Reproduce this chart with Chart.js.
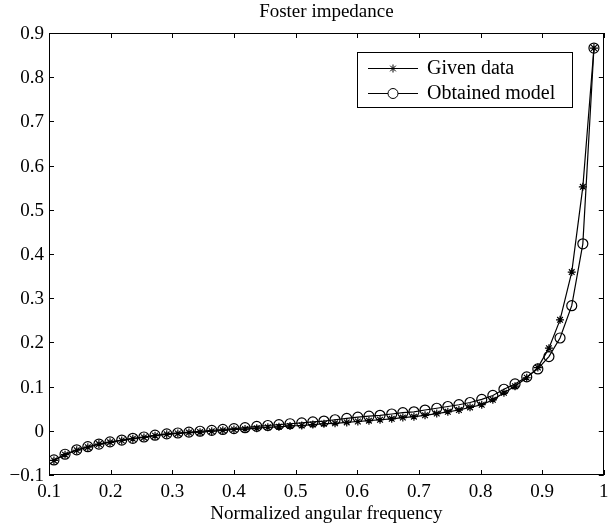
<!DOCTYPE html>
<html>
<head>
<meta charset="utf-8">
<script src="https://cdn.jsdelivr.net/npm/chart.js@4.4.0/dist/chart.umd.min.js"></script>
<style>
  html, body { margin: 0; padding: 0; background: #fff; }
  #fosterChart { display: block; }
</style>
</head>
<body>
<canvas id="fosterChart" width="610" height="526"></canvas>
<script>
// ===== Datos =====
const frequency = [0.108, 0.126, 0.145, 0.163, 0.181, 0.199, 0.218, 0.236, 0.254, 0.272,
  0.291, 0.309, 0.327, 0.345, 0.364, 0.382, 0.400, 0.418, 0.437, 0.455,
  0.473, 0.491, 0.510, 0.528, 0.546, 0.564, 0.583, 0.601, 0.619, 0.637,
  0.656, 0.674, 0.692, 0.710, 0.729, 0.747, 0.765, 0.783, 0.802, 0.820,
  0.838, 0.856, 0.875, 0.893, 0.911, 0.929, 0.948, 0.966, 0.984];

const givenData = [-0.067, -0.054, -0.044, -0.037, -0.030, -0.026, -0.022, -0.018, -0.015, -0.011,
  -0.008, -0.006, -0.004, -0.003, -0.001, 0.001, 0.003, 0.004, 0.006, 0.008,
  0.009, 0.011, 0.012, 0.014, 0.016, 0.017, 0.019, 0.021, 0.023, 0.025,
  0.027, 0.030, 0.032, 0.035, 0.039, 0.043, 0.047, 0.053, 0.059, 0.070,
  0.086, 0.101, 0.120, 0.143, 0.187, 0.251, 0.359, 0.552, 0.866];

const obtainedModel = [-0.066, -0.053, -0.043, -0.036, -0.030, -0.025, -0.021, -0.017, -0.014, -0.010,
  -0.007, -0.005, -0.003, -0.001, 0.001, 0.003, 0.005, 0.007, 0.010, 0.012,
  0.014, 0.016, 0.018, 0.020, 0.022, 0.025, 0.028, 0.031, 0.033, 0.035,
  0.038, 0.041, 0.043, 0.047, 0.051, 0.055, 0.059, 0.064, 0.071, 0.080,
  0.094, 0.106, 0.122, 0.140, 0.168, 0.210, 0.283, 0.423, 0.866];

const xTicks = [0.1, 0.2, 0.3, 0.4, 0.5, 0.6, 0.7, 0.8, 0.9, 1];
const xTickLabels = ['0.1', '0.2', '0.3', '0.4', '0.5', '0.6', '0.7', '0.8', '0.9', '1'];
const yTicks = [-0.1, 0, 0.1, 0.2, 0.3, 0.4, 0.5, 0.6, 0.7, 0.8, 0.9];
const yTickLabels = ['\u22120.1', '0', '0.1', '0.2', '0.3', '0.4', '0.5', '0.6', '0.7', '0.8', '0.9'];

const seriesNames = ['Given data', 'Obtained model'];

const FONT = '"Liberation Serif", "DejaVu Serif", serif';

function toPoints(xs, ys) {
  return xs.map((x, i) => ({ x: x, y: ys[i] }));
}

// Marco estilo matlab: caja, ticks hacia dentro, textos y leyenda
const matlabFrame = {
  id: 'matlabFrame',
  afterDraw(chart) {
    const ctx = chart.ctx;
    const area = chart.chartArea;
    const xs = chart.scales.x;
    const ys = chart.scales.y;

    ctx.save();
    ctx.strokeStyle = '#000';
    ctx.lineWidth = 1;
    ctx.strokeRect(Math.round(area.left) + 0.5, Math.round(area.top) + 0.5,
      Math.round(area.right - area.left) - 1, Math.round(area.bottom - area.top) - 1);

    ctx.fillStyle = '#000';
    ctx.font = '19px ' + FONT;

    // ticks eje x
    ctx.textAlign = 'center';
    ctx.textBaseline = 'middle';
    xTicks.forEach((v, i) => {
      const px = Math.round(xs.getPixelForValue(v)) + 0.5;
      ctx.beginPath();
      ctx.moveTo(px, area.bottom);
      ctx.lineTo(px, area.bottom - 5);
      ctx.moveTo(px, area.top);
      ctx.lineTo(px, area.top + 5);
      ctx.stroke();
      ctx.fillText(xTickLabels[i], xs.getPixelForValue(v), area.bottom + 17);
    });

    // ticks eje y
    ctx.textAlign = 'right';
    yTicks.forEach((v, i) => {
      const py = Math.round(ys.getPixelForValue(v)) + 0.5;
      ctx.beginPath();
      ctx.moveTo(area.left, py);
      ctx.lineTo(area.left + 5, py);
      ctx.moveTo(area.right, py);
      ctx.lineTo(area.right - 5, py);
      ctx.stroke();
      ctx.fillText(yTickLabels[i], area.left - 5, ys.getPixelForValue(v) + 1);
    });

    // titulos
    ctx.textAlign = 'center';
    ctx.fillText('Foster impedance', (area.left + area.right) / 2, 12);
    ctx.fillText('Normalized angular frequency', (area.left + area.right) / 2, 514);

    // leyenda
    ctx.font = '20px ' + FONT;
    ctx.fillStyle = '#fff';
    ctx.fillRect(357, 52, 215, 55);
    ctx.strokeRect(357.5, 52.5, 215, 55);
    const rows = [68, 93];
    const styles = ['star', 'circle'];
    const radii = [4, 5];
    rows.forEach((ry, i) => {
      ctx.beginPath();
      ctx.moveTo(368, ry + 0.5);
      ctx.lineTo(418, ry + 0.5);
      ctx.stroke();
      ctx.fillStyle = '#fff';
      Chart.helpers.drawPoint(ctx, { pointStyle: styles[i], radius: radii[i], borderWidth: 1, rotation: 0 }, 393, ry + 0.5);
      ctx.fillStyle = '#000';
      ctx.textAlign = 'left';
      ctx.fillText(seriesNames[i], 427, ry + 1);
    });
    ctx.restore();
  }
};

new Chart(document.getElementById('fosterChart'), {
  type: 'scatter',
  data: {
    datasets: [
      {
        label: seriesNames[0],
        data: toPoints(frequency, givenData),
        showLine: true,
        borderColor: '#000',
        backgroundColor: 'rgba(0,0,0,0)',
        borderWidth: 1.2,
        pointStyle: 'star',
        pointRadius: 4,
        pointBorderWidth: 1.2,
        pointBorderColor: '#000'
      },
      {
        label: seriesNames[1],
        data: toPoints(frequency, obtainedModel),
        showLine: true,
        borderColor: '#000',
        backgroundColor: 'rgba(0,0,0,0)',
        borderWidth: 1.2,
        pointStyle: 'circle',
        pointRadius: 5,
        pointBorderWidth: 1.2,
        pointBorderColor: '#000'
      }
    ]
  },
  options: {
    responsive: false,
    animation: false,
    layout: { padding: { left: 49, right: 2, top: 33, bottom: 51 } },
    plugins: {
      legend: { display: false },
      title: { display: false },
      tooltip: { enabled: false }
    },
    scales: {
      x: {
        type: 'linear',
        min: 0.1,
        max: 1,
        ticks: { display: false, stepSize: 0.1 },
        grid: { display: false },
        border: { display: false },
        afterFit: (scale) => { scale.height = 0; }
      },
      y: {
        type: 'linear',
        min: -0.1,
        max: 0.9,
        ticks: { display: false, stepSize: 0.1 },
        grid: { display: false },
        border: { display: false },
        afterFit: (scale) => { scale.width = 0; }
      }
    }
  },
  plugins: [matlabFrame]
});
</script>
</body>
</html>
